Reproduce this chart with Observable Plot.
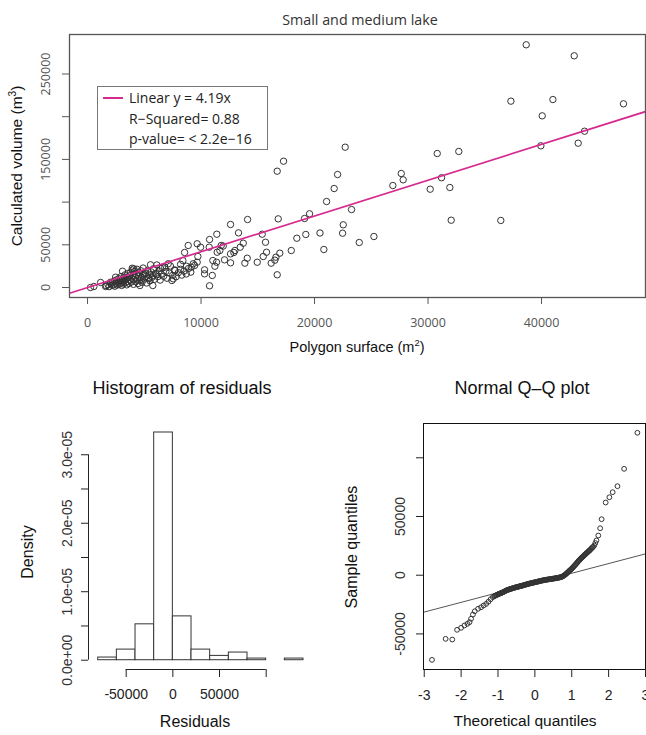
<!DOCTYPE html>
<html><head><meta charset="utf-8">
<script src="https://cdn.jsdelivr.net/npm/d3@7"></script>
<script src="https://cdn.jsdelivr.net/npm/@observablehq/plot@0.6"></script>
<style>
body{margin:0;background:#fff;}
#page{position:relative;width:646px;height:735px;overflow:hidden;background:#fff;}
.abs{position:absolute;left:0;top:0;}
.lbl{position:absolute;white-space:nowrap;transform:translate(-50%,-50%);line-height:1;}
.rot{transform:translate(-50%,-50%) rotate(-90deg);}
sup{font-size:65%;line-height:0;}
</style></head>
<body><div id="page"></div>
<script>
// ---------- DATA ----------
const title = "Small and medium lake";
const surface = [38650,42880,37300,41000,47220,40060,43790,43230,39940,22700,30810,32710,22030,27640,27810,26900,31190,30190,31920,21730,
21060,23260,32040,36410,22530,22470,20480,23940,25230,20820,16710,17270,19560,19120,16800,14100,12600,13300,11390,10750,
15390,15680,19230,18440,17950,16940,16500,16180,16710,14950,14070,13860,13720,13450,12980,12600,12600,12070,11780,11660,
11370,11220,11040,10310,10310,10750,9960,9660,9720,8870,8550,9430,9140,8720,8190,7670,7550,7430,6810,7110,
6430,6080,5550,5790,5400,4960,4610,5750,4080,3940,3500,3080,2910,2470,2030,1590,1150,260,560,16600,
15770,15480,12890,11950,11420,10720,10990,9660,9310,
1650,1800,1900,2050,2150,2200,2300,2350,2400,2500,2550,2600,2700,2750,2800,2850,2900,2950,3000,3050,
3100,3150,3200,3250,3300,3350,3400,3450,3500,3550,3600,3650,3700,3750,3800,3850,3900,3950,4000,4050,
4100,4150,4200,4250,4300,4350,4400,4450,4500,4550,4600,4700,4750,4800,4850,4900,5000,5100,5150,5200,
5300,5350,5450,5500,5600,5700,5800,5900,6000,6100,6200,6300,6400,6500,6600,6700,6900,7000,7200,7300,
7500,7700,7800,8000,8200,8300,8500,8700,8900,9100,8400];
const volume = [284200,271300,218200,220100,215100,201000,183000,169000,165900,164300,156900,159300,132300,133500,126100,119400,128500,115100,117100,115900,
100700,91300,78800,78500,73400,63600,63800,52700,59700,44500,136200,147900,86300,80800,80400,79600,73800,64000,62400,56200,
62400,53000,62100,57700,43300,40200,32000,28500,14900,29600,34300,28500,51900,47200,43300,39400,28900,32400,49200,43300,
29600,24900,31600,20700,16000,2000,47200,51200,36300,49200,41000,25800,23800,24900,21400,20700,10200,8200,23800,27800,
22600,14900,26600,14100,10200,16000,2300,2300,21900,22600,12100,19100,8200,12100,6200,1200,5900,0,1200,35500,
41300,36300,41000,48500,41300,47200,14100,29600,27800,
2100,3500,1000,4200,2600,5800,3100,7600,1500,4900,8900,2900,6100,10400,3700,7800,5200,12800,2400,9300,
6600,4100,11200,8000,14800,5600,9800,3100,7200,16400,11800,4800,13900,8600,17800,6300,10900,20500,14300,3700,
9100,18900,12300,6900,15600,21400,10200,4600,13500,17200,8300,19600,11700,6100,14900,22800,9800,16800,12900,5300,
20100,11100,15200,7800,18300,12100,21900,9600,16500,26400,12800,19400,8700,15800,23100,13200,18800,10900,16900,25200,
14200,19800,12600,17400,27100,14500,19300,15900,22300,18000,31500];
const slope = 4.19;
const xTicksTop = [0,10000,20000,30000,40000];
const yTicksTop = [0,50000,100000,150000,200000,250000];
const yLabelsTop = ["0","50000","","150000","","250000"];

// histogram of residuals (density per 20000-wide bin)
const binStart = [-80000,-60000,-40000,-20000,0,20000,40000,60000,80000,100000,120000];
const binEnd   = [-60000,-40000,-20000,0,20000,40000,60000,80000,100000,120000,140000];
const density  = [3.9e-7,1.55e-6,5.24e-6,3.325e-5,6.4e-6,1.55e-6,6.3e-7,1.12e-6,2.4e-7,0,2.4e-7];
const histXTicks = [-50000,0,50000,100000];
const histXLabels = ["-50000","0","50000",""];
const histYTicks = [0,5e-6,1e-5,1.5e-5,2e-5,2.5e-5,3e-5];
const histYLabelVals = [0,1e-5,2e-5,3e-5];
const histYLabels = ["0.0e+00","1.0e-05","2.0e-05","3.0e-05"];

// normal Q-Q plot
const qqTheoretical = [-2.79,-2.42,-2.24,-2.11,-2.00,-1.91,-1.83,-1.77,-1.73,-1.68,-1.63,-1.54,-1.46,-1.39,-1.32,-1.26,-1.20,-1.14,
-1.10,-1.06,-1.02,-0.98,-0.94,-0.90,-0.86,-0.82,-0.78,-0.74,-0.70,-0.66,-0.62,-0.58,-0.54,-0.50,-0.46,-0.42,-0.38,-0.34,-0.30,-0.26,-0.22,-0.18,-0.14,-0.10,-0.06,-0.02,
0.02,0.06,0.10,0.14,0.18,0.22,0.26,0.30,0.34,0.38,0.42,0.46,0.50,0.54,0.58,0.62,0.66,0.70,0.74,0.78,0.82,0.86,0.90,0.94,0.98,
1.02,1.06,1.10,1.14,1.18,1.22,1.26,1.30,1.34,1.38,1.42,1.46,1.50,1.54,1.58,1.61,1.64,1.67,1.72,1.77,1.81,1.92,2.02,2.11,2.24,2.42,2.78,
-1.08,-1.04,-1.00,-0.96,-0.92,-0.88,-0.84,-0.80,-0.76,-0.72,-0.68,-0.64,-0.60,-0.56,-0.52,-0.48,-0.44,-0.40,-0.36,-0.32,-0.28,-0.24,-0.20,-0.16,-0.12,-0.08,-0.04,
0.00,0.04,0.08,0.12,0.16,0.20,0.24,0.28,0.32,0.36,0.40,0.44,0.48,0.52,0.56,0.60,0.64,0.68,0.72,0.76,0.80,0.84,0.88,0.92,0.96,
1.00,1.04,1.08,1.12,1.16,1.20,1.24,1.28,1.32,1.36,1.40,1.44,1.48,1.52,1.56];
const qqSample = [-72100,-54200,-54800,-46500,-44800,-42800,-41400,-40000,-37100,-33500,-30700,-28600,-27300,-25800,-24400,-22600,-20500,-18700,
-17900,-17200,-16600,-16000,-15500,-15000,-14400,-13800,-13000,-12600,-12100,-11700,-11300,-10900,-10500,-10200,-9900,-9500,-9200,-8900,-8500,-8100,-7800,-7400,-7100,-6800,-6500,-6200,
-5900,-5600,-5300,-5000,-4700,-4400,-4100,-3900,-3700,-3500,-3300,-3100,-2900,-2700,-2500,-2300,-2000,-1700,-1200,-500,400,1500,2700,3900,5000,
6200,7600,9000,10500,12000,13300,14600,15800,17000,18200,19300,20500,21600,23000,24200,25300,27400,29600,33800,40000,47700,61900,66400,70700,75800,90600,121300,
-17500,-16900,-16300,-15700,-15300,-14700,-14100,-13400,-12800,-12300,-11900,-11500,-11100,-10700,-10300,-10000,-9700,-9300,-9000,-8700,-8300,-7900,-7600,-7200,-6900,-6600,-6300,
-6000,-5700,-5400,-5100,-4800,-4500,-4300,-4000,-3800,-3600,-3400,-3200,-3000,-2800,-2600,-2400,-2100,-1800,-1500,-900,0,900,2100,3300,4400,
5600,6900,8300,9700,11200,12600,14000,15200,16400,17600,18800,19900,21000,22300,23600];
const qqLineIntercept = -6600;
const qqLineSlope = 8260;
const qqXTicks = [-3,-2,-1,0,1,2,3];
const qqYTicks = [-50000,0,50000,100000];
const qqYLabels = ["-50000","0","50000",""];

// ---------- LAYOUT ----------
(function () {
const page = document.getElementById("page");
const pink = "#d62a8e";
const sans = "'Liberation Sans', Arial, sans-serif";
const myriad = "'Open Sans', sans-serif";

function place(el, left, topPx) {
  const d = document.createElement("div");
  d.className = "abs";
  d.style.left = left + "px"; d.style.top = topPx + "px";
  d.appendChild(el); page.appendChild(d);
}
function label(html, cx, cy, size, family, color, rot) {
  const d = document.createElement("div");
  d.className = "lbl" + (rot ? " rot" : "");
  d.innerHTML = html;
  d.style.left = cx + "px"; d.style.top = cy + "px";
  d.style.fontSize = size + "px"; d.style.fontFamily = family; d.style.color = color;
  page.appendChild(d);
}

// ---- top scatter ----
const pts = surface.map((s, i) => ({surface: s, volume: volume[i]}));
const xDomTop = [-1590, 49160];
const fit = xDomTop.map(x => ({x, y: slope * x}));
const scatter = Plot.plot({
  width: 646, height: 350,
  marginLeft: 69, marginRight: 1, marginTop: 34, marginBottom: 53,
  x: {domain: xDomTop}, y: {domain: [-11700, 296250]},
  style: {fontFamily: myriad, fontSize: "12px", color: "#555", background: "transparent", overflow: "visible"},
  marks: [
    Plot.dot(pts, {x: "surface", y: "volume", r: 3.2, stroke: "#333", strokeWidth: 1, fill: "none"}),
    Plot.line(fit, {x: "x", y: "y", stroke: pink, strokeWidth: 1.7, clip: true}),
    Plot.frame({stroke: "#555", strokeWidth: 1.3}),
    Plot.axisX({ticks: xTicksTop, tickSize: 7, tickPadding: 14, label: null, stroke: "#555", fill: "#555", fontSize: 12.5, tickFormat: d => String(d)}),
    Plot.axisY({ticks: yTicksTop, tickSize: 7, fill: "none", label: null, stroke: "#555"}),
    Plot.text(yTicksTop, {y: d => d, text: (d, i) => yLabelsTop[i], frameAnchor: "left", textAnchor: "middle", dx: -24, rotate: -90, fill: "#555", fontSize: 12.5})
  ]
});
place(scatter, 0, 0);
label(title, 360, 20, 14.3, myriad, "#333");
label("Calculated volume (m<sup>3</sup>)", 17, 166, 15.5, sans, "#111", true);
label("Polygon surface (m<sup>2</sup>)", 357, 347, 14.5, sans, "#111");

// legend
const leg = document.createElement("div");
leg.style.cssText = "position:absolute;left:97px;top:86px;width:171px;height:64px;border:1px solid #777;box-sizing:border-box;background:#fff;font-family:" + myriad + ";font-size:14px;color:#222;";
leg.innerHTML = `<div style="position:absolute;left:5px;top:10px;width:20px;height:2px;background:${pink}"></div>
<div style="position:absolute;left:31px;top:1px;white-space:nowrap">Linear y = ${slope}x</div>
<div style="position:absolute;left:31px;top:22px;white-space:nowrap">R\u2212Squared= 0.88</div>
<div style="position:absolute;left:31px;top:42px;white-space:nowrap">p-value= &lt; 2.2e\u221216</div>`;
page.appendChild(leg);

// ---- histogram ----
const bins = binStart.map((b, i) => ({x1: b, x2: binEnd[i], y: density[i]}));
const hxDom = [-90390, binEnd[binEnd.length - 1]];
const hyDom = [-1.356e-6, 3.398e-5];
const hist = Plot.plot({
  width: 320, height: 365,
  marginLeft: 88, marginRight: 17, marginTop: 57, marginBottom: 66,
  x: {domain: hxDom}, y: {domain: hyDom},
  style: {fontFamily: sans, fontSize: "14px", color: "#222", background: "transparent", overflow: "visible"},
  marks: [
    Plot.rectY(bins, {x1: "x1", x2: "x2", y: "y", fill: "white", stroke: "#333", strokeWidth: 1, inset: 0}),
    Plot.ruleY([hyDom[0]], {x1: histXTicks[0], x2: histXTicks[histXTicks.length - 1], stroke: "#222"}),
    Plot.ruleX([hxDom[0]], {y1: histYTicks[0], y2: histYTicks[histYTicks.length - 1], stroke: "#222"}),
    Plot.axisX({ticks: histXTicks, tickSize: 8, tickPadding: 12, label: null, stroke: "#222", fill: "#222", fontSize: 14,
      tickFormat: d => histXLabels[histXTicks.indexOf(d)]}),
    Plot.axisY({ticks: histYTicks, tickSize: 7, fill: "none", label: null, stroke: "#222"}),
    Plot.text(histYLabelVals, {y: d => d, text: (d, i) => histYLabels[i], frameAnchor: "left", textAnchor: "middle", dx: -21, rotate: -90, fill: "#333", fontSize: 14})
  ]
});
place(hist, 0, 370);
label("Histogram of residuals", 182, 388, 18, sans, "#111");
label("Residuals", 195, 722, 16, sans, "#111");
label("Density", 28, 552, 16, sans, "#111", true);

// ---- QQ plot ----
const qq = qqTheoretical.map((t, i) => ({t, s: qqSample[i]}));
const qxDom = [-3.02, 3.0];
const qqLine = qxDom.map(x => ({x, y: qqLineIntercept + qqLineSlope * x}));
const qqp = Plot.plot({
  width: 326, height: 365,
  marginLeft: 103, marginRight: 1, marginTop: 53, marginBottom: 66,
  x: {domain: qxDom}, y: {domain: [-80300, 129200]},
  style: {fontFamily: sans, fontSize: "14px", color: "#222", background: "transparent", overflow: "visible"},
  marks: [
    Plot.line(qqLine, {x: "x", y: "y", stroke: "#555", strokeWidth: 1, clip: true}),
    Plot.dot(qq, {x: "t", y: "s", r: 2.4, stroke: "#333", strokeWidth: 1, fill: "none"}),
    Plot.frame({stroke: "#111", strokeWidth: 1}),
    Plot.axisX({ticks: qqXTicks, tickSize: 8, tickPadding: 13, label: null, stroke: "#222", fill: "#222", fontSize: 14, tickFormat: d => String(d)}),
    Plot.axisY({ticks: qqYTicks, tickSize: 7, fill: "none", label: null, stroke: "#222"}),
    Plot.text(qqYTicks, {y: d => d, text: (d, i) => qqYLabels[i], frameAnchor: "left", textAnchor: "middle", dx: -23, rotate: -90, fill: "#333", fontSize: 14})
  ]
});
place(qqp, 320, 370);
label("Normal Q\u2013Q plot", 522, 388, 18, sans, "#111");
label("Theoretical quantiles", 525, 721, 15.5, sans, "#111");
label("Sample quantiles", 352, 547, 16, sans, "#111", true);
})();
</script>
</body></html>
